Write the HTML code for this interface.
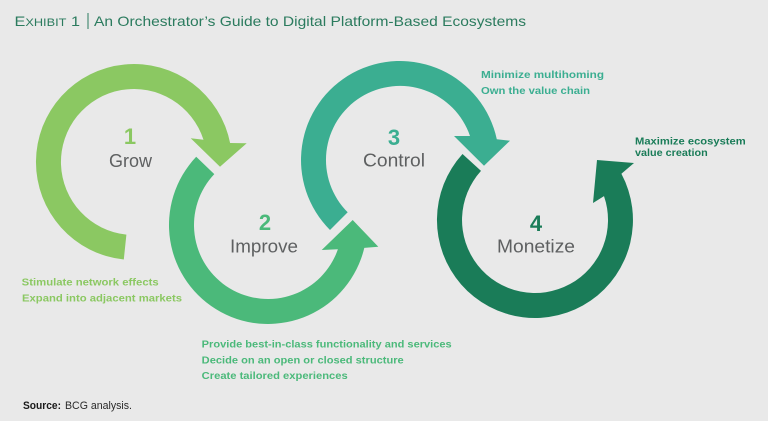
<!DOCTYPE html>
<html>
<head>
<meta charset="utf-8">
<style>
  html,body{margin:0;padding:0;background:#e9e9e9;}
  svg{display:block;}
  text{font-family:"Liberation Sans","DejaVu Sans",sans-serif;}
</style>
</head>
<body>
<svg width="768" height="421" viewBox="0 0 768 421" xmlns="http://www.w3.org/2000/svg">
  <rect x="0" y="0" width="768" height="421" fill="#e9e9e9"/>

  <!-- Title -->
  <text x="14.5" y="26" fill="#2b7b5e" font-size="14" textLength="65.5" lengthAdjust="spacingAndGlyphs">E<tspan font-size="11">XHIBIT</tspan> 1</text>
  <line x1="88" y1="13" x2="88" y2="29" stroke="#2b7b5e" stroke-width="1"/>
  <text x="94" y="26" fill="#2b7b5e" font-size="14" textLength="432" lengthAdjust="spacingAndGlyphs">An Orchestrator’s Guide to Digital Platform-Based Ecosystems</text>

  <!-- Ring 1 -->
  <path d="M 123.8 259.5 A 98 98 0 1 1 230.1 143.0 L 246.7 143.3 L 220 166.7 L 190.7 138.3 L 203.5 139.8 A 73 73 0 1 0 126.4 234.6 Z" fill="#8bc862"/>
  <!-- Ring 2 -->
  <path d="M 196.2 156.8 A 99 99 0 1 0 364.3 247.9 L 378.3 246.7 L 352.7 220 L 321.7 250 L 337.9 249.3 A 74 74 0 1 1 214.3 174.1 Z" fill="#4bb97a"/>
  <!-- Ring 3 -->
  <path d="M 330 230 A 99 99 0 1 1 496.8 139.2 L 510 140.7 L 484 165.7 L 454 136 L 470 136 A 74 74 0 1 0 347.7 212.3 Z" fill="#3bae91"/>
  <!-- Ring 4 -->
  <path d="M 462.5 154 A 98 98 0 1 0 621.4 173.8 L 634 163 L 597 160 L 593 203 L 604 196.1 A 73 73 0 1 1 481 170.9 Z" fill="#1a7c58"/>

  <!-- Numbers & labels -->
  <text x="130" y="144" fill="#8bc862" font-size="22" font-weight="bold" text-anchor="middle">1</text>
  <text x="130.5" y="167" fill="#5e6061" font-size="18" text-anchor="middle" textLength="43" lengthAdjust="spacingAndGlyphs">Grow</text>

  <text x="265" y="230" fill="#4bb97a" font-size="22" font-weight="bold" text-anchor="middle">2</text>
  <text x="264" y="252.7" fill="#5e6061" font-size="18" text-anchor="middle" textLength="68" lengthAdjust="spacingAndGlyphs">Improve</text>

  <text x="394" y="145" fill="#3bae91" font-size="22" font-weight="bold" text-anchor="middle">3</text>
  <text x="394" y="166.7" fill="#5e6061" font-size="18" text-anchor="middle" textLength="62" lengthAdjust="spacingAndGlyphs">Control</text>

  <text x="536" y="231" fill="#1a7c58" font-size="22" font-weight="bold" text-anchor="middle">4</text>
  <text x="536" y="252.7" fill="#5e6061" font-size="18" text-anchor="middle" textLength="78" lengthAdjust="spacingAndGlyphs">Monetize</text>

  <!-- Side texts -->
  <g font-size="10.5" font-weight="bold">
    <text x="21.7" y="285.5" fill="#8bc862" textLength="137" lengthAdjust="spacingAndGlyphs">Stimulate network effects</text>
    <text x="22" y="301.5" fill="#8bc862" textLength="160" lengthAdjust="spacingAndGlyphs">Expand into adjacent markets</text>

    <text x="201.7" y="347.5" fill="#4bb97a" textLength="250" lengthAdjust="spacingAndGlyphs">Provide best-in-class functionality and services</text>
    <text x="201.7" y="363.3" fill="#4bb97a" textLength="202" lengthAdjust="spacingAndGlyphs">Decide on an open or closed structure</text>
    <text x="201.7" y="379" fill="#4bb97a" textLength="146" lengthAdjust="spacingAndGlyphs">Create tailored experiences</text>

    <text x="481" y="78" fill="#3bae91" textLength="123" lengthAdjust="spacingAndGlyphs">Minimize multihoming</text>
    <text x="481" y="94" fill="#3bae91" textLength="109" lengthAdjust="spacingAndGlyphs">Own the value chain</text>

    <text x="635" y="144.3" fill="#1a7c58" textLength="110.7" lengthAdjust="spacingAndGlyphs">Maximize ecosystem</text>
    <text x="635" y="156" fill="#1a7c58" textLength="72.7" lengthAdjust="spacingAndGlyphs">value creation</text>
  </g>

  <!-- Source -->
  <text x="23" y="409" fill="#1a1a1a" font-size="11" font-weight="bold" textLength="38" lengthAdjust="spacingAndGlyphs">Source:</text>
  <text x="65" y="409" fill="#2a2a2a" font-size="11" textLength="67" lengthAdjust="spacingAndGlyphs">BCG analysis.</text>
</svg>
</body>
</html>
